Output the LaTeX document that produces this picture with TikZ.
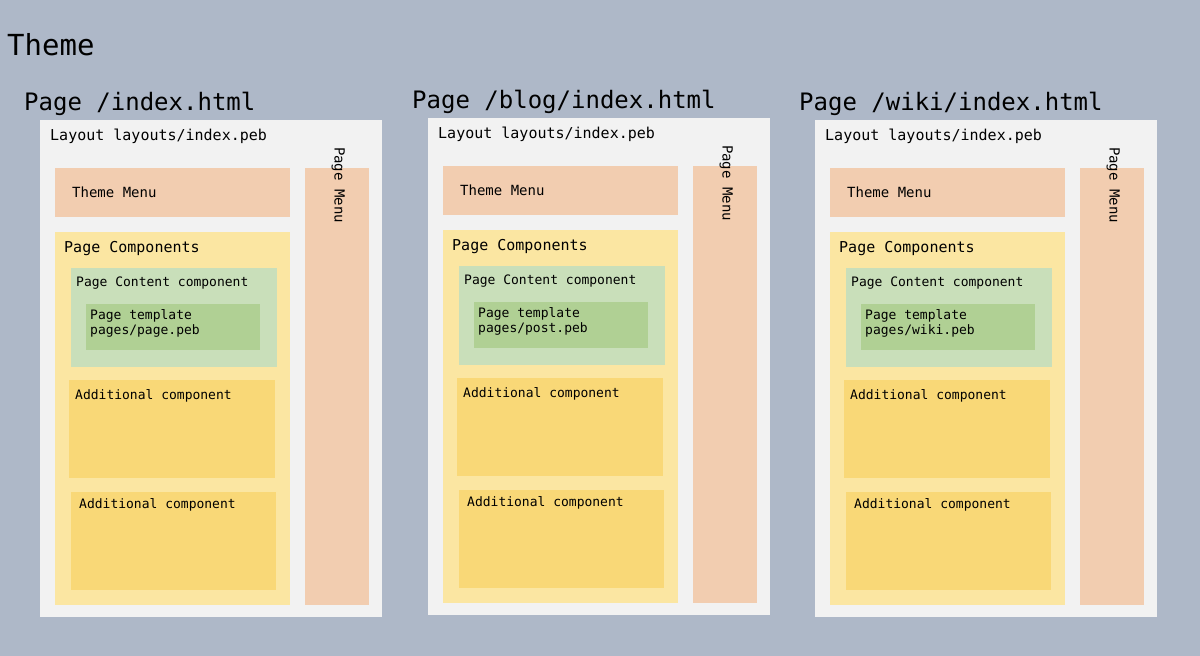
\documentclass[tikz,border=0pt]{standalone}
\usepackage{fontspec}
\setmonofont{DejaVu Sans Mono}
\usetikzlibrary{positioning}
\definecolor{bgblue}{HTML}{AEB8C8}
\definecolor{layoutgray}{HTML}{F2F2F2}
\definecolor{menupeach}{HTML}{F2CDB0}
\definecolor{compyellow}{HTML}{FBE6A2}
\definecolor{addyellow}{HTML}{F9D877}
\definecolor{contgreen}{HTML}{C9DFBA}
\definecolor{tplgreen}{HTML}{B0D094}
\tikzset{
  area/.style={anchor=north west, inner sep=0pt, draw=none},
  lbl/.style={anchor=north west, inner sep=0pt, font=\ttfamily\fontsize{14}{16}\selectfont, align=left},
}
% one page: x offset, y offset, path, template, prefix
\newcommand{\pagepanel}[5]{%
  \begin{scope}[shift={(#1,#2)}]
    \node[anchor=base west, inner sep=0pt, font=\ttfamily\fontsize{24}{26}\selectfont] (#5title) at (24,110) {Page #3};
    \node[area, fill=layoutgray, minimum width=342, minimum height=497] (#5layout) at (40,120) {};
    \node[lbl, font=\ttfamily\fontsize{15}{17}\selectfont] (#5layoutlbl) at (50,129) {Layout layouts/index.peb};
    \node[area, fill=menupeach, minimum width=235, minimum height=49] (#5theme) at (55,168) {};
    \node[lbl, anchor=west] (#5themelbl) at (72,192) {Theme Menu};
    \node[area, fill=menupeach, minimum width=64, minimum height=437] (#5menu) at (305,168) {};
    \node[lbl, anchor=north, rotate=-90] (#5menulbl) at (345,185) {Page Menu};
    \node[area, fill=compyellow, minimum width=235, minimum height=373] (#5comps) at (55,232) {};
    \node[lbl, font=\ttfamily\fontsize{15}{17}\selectfont] (#5compslbl) at (64,241) {Page Components};
    \node[area, fill=contgreen, minimum width=206, minimum height=99] (#5content) at (71,268) {};
    \node[lbl, font=\ttfamily\fontsize{13}{15}\selectfont] (#5contentlbl) at (76,277) {Page Content component};
    \node[area, fill=tplgreen, minimum width=174, minimum height=46] (#5tpl) at (86,304) {};
    \node[lbl, font=\ttfamily\fontsize{13}{15}\selectfont] (#5tpllbl) at (90,309) {Page template\\pages/#4.peb};
    \node[area, fill=addyellow, minimum width=206, minimum height=98] (#5addone) at (69,380) {};
    \node[lbl, font=\ttfamily\fontsize{13}{15}\selectfont] (#5addonelbl) at (75,389) {Additional component};
    \node[area, fill=addyellow, minimum width=205, minimum height=98] (#5addtwo) at (71,492) {};
    \node[lbl, font=\ttfamily\fontsize{13}{15}\selectfont] (#5addtwolbl) at (79,498) {Additional component};
  \end{scope}}
\begin{document}
\begin{tikzpicture}[x=1pt, y=-1pt]
  \fill[bgblue] (0,0) rectangle (1200,656);
  \useasboundingbox (0,0) rectangle (1200,656);
  \node[anchor=base west, inner sep=0pt, font=\ttfamily\fontsize{29}{31}\selectfont] (themetitle) at (7,55) {Theme};
  \pagepanel{0}{0}{/index.html}{page}{pa}
  \pagepanel{388}{-2}{/blog/index.html}{post}{pb}
  \pagepanel{775}{0}{/wiki/index.html}{wiki}{pc}
\end{tikzpicture}
\end{document}
